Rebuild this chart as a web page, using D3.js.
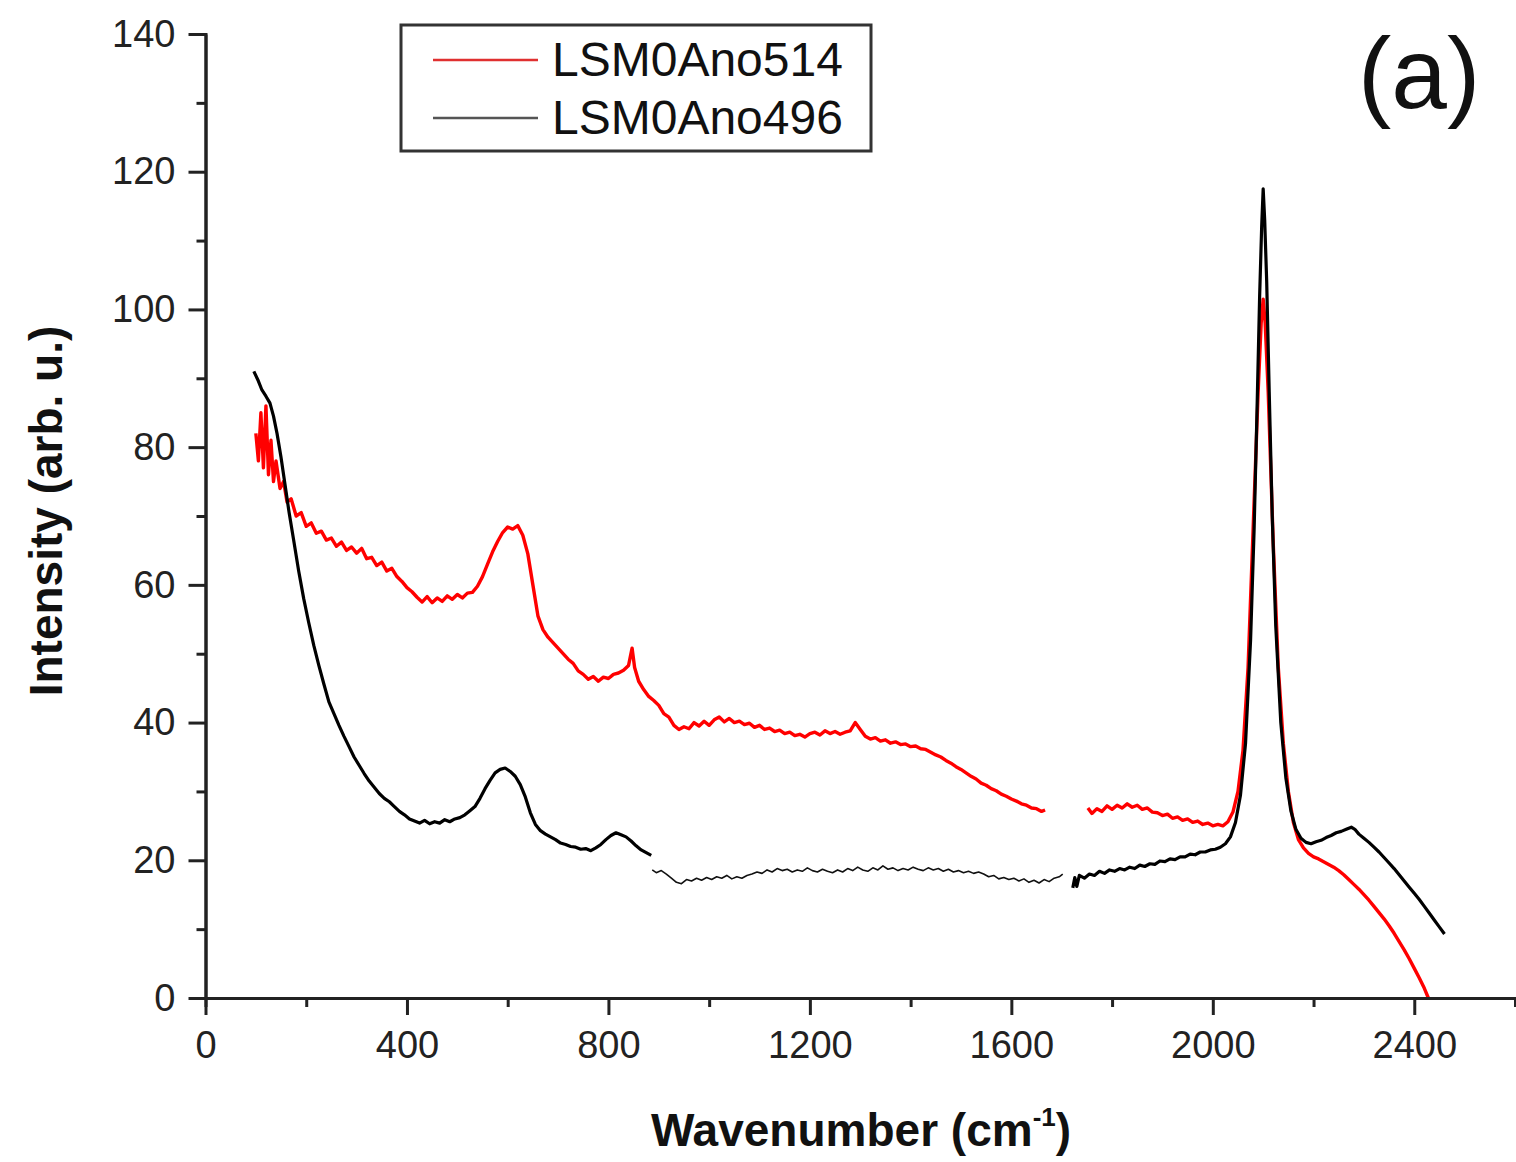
<!DOCTYPE html>
<html>
<head>
<meta charset="utf-8">
<script src="https://cdn.jsdelivr.net/npm/d3@7"></script>
<style>
  body { margin: 0; background: #fff; }
  text { font-family: "Liberation Sans", Arial, sans-serif; }
</style>
</head>
<body>
<div id="chart"></div>
<script>
// Raman spectra (wavenumber, intensity)
const seriesNames = ["LSM0Ano514", "LSM0Ano496"];
const xMajorTicks = [0, 400, 800, 1200, 1600, 2000, 2400];
const xMinorTicks = [200, 600, 1000, 1400, 1800, 2200, 2600];
const yMajorTicks = [0, 20, 40, 60, 80, 100, 120, 140];
const yMinorTicks = [10, 30, 50, 70, 90, 110, 130];

// LSM0Ano514 (red), first piece
const red514A = [
  [100,82],[105,78],[110,85],[115,77],[120,86],[125,76],[130,81],[135,75],[140,78],[148,74],
  [155,75],[162,72],[170,72.5],[180,70],[190,70.5],[200,68.5],[210,69],[220,67.5],[230,67.8],[240,66.5],
  [250,66.8],[260,65.6],[270,66.2],[280,65],[290,65.5],[300,64.6],[310,65.3],[320,63.8],[330,64],[340,62.8],
  [350,63.3],[360,62],[370,62.4],[380,61.2],[390,60.5],[400,59.6],[410,59],[420,58.2],[430,57.5],[440,58.3],
  [450,57.4],[460,58.1],[470,57.6],[480,58.4],[490,57.9],[500,58.6],[510,58.1],[520,58.8],[530,58.9],[540,59.8],
  [550,61.2],[560,63],[570,64.8],[580,66.3],[590,67.6],[600,68.4],[610,68.1],[620,68.6],[630,67.2],[640,64.5],
  [650,60],[660,55.5],[670,53.5],[680,52.4],[690,51.6],[700,50.8],[710,50],[720,49.2],[730,48.6],[740,47.5],
  [750,47],[760,46.3],[770,46.7],[780,46],[790,46.6],[800,46.4],[810,47],[820,47.2],[830,47.6],[840,48.3],
  [847,50.8],[852,48],[860,46],[870,44.8],[880,43.8],[890,43.2],[900,42.5],[910,41.3],[920,40.8],[930,39.6],
  [940,39],[950,39.4],[960,39.1],[970,40],[980,39.5],[990,40.2],[1000,39.6],[1010,40.4],[1020,40.8],[1030,40.1],
  [1040,40.6],[1050,40],[1060,40.2],[1070,39.7],[1080,39.9],[1090,39.3],[1100,39.6],[1110,39],[1120,39.2],[1130,38.7],
  [1140,38.9],[1150,38.4],[1160,38.6],[1170,38.1],[1180,38.3],[1190,37.9],[1200,38.4],[1210,38.6],[1220,38.2],[1230,38.8],
  [1240,38.4],[1250,38.7],[1260,38.3],[1270,38.6],[1280,38.8],[1290,40],[1300,39],[1310,38],[1320,37.6],[1330,37.8],
  [1340,37.3],[1350,37.5],[1360,37],[1370,37.2],[1380,36.8],[1390,36.9],[1400,36.5],[1410,36.6],[1420,36.2],[1430,36.1],
  [1440,35.7],[1450,35.3],[1460,35],[1470,34.5],[1480,34.1],[1490,33.6],[1500,33.2],[1510,32.7],[1520,32.2],[1530,31.8],
  [1540,31.2],[1550,30.9],[1560,30.4],[1570,30.1],[1580,29.6],[1590,29.3],[1600,28.9],[1610,28.6],[1620,28.2],[1630,28],
  [1640,27.6],[1650,27.5],[1660,27.1],[1667,27.3]
];
// LSM0Ano514 (red), second piece
const red514B = [
  [1752,27.6],[1760,26.8],[1770,27.5],[1780,27.1],[1790,27.9],[1800,27.4],[1810,28],[1820,27.6],[1830,28.2],[1840,27.7],
  [1850,28],[1860,27.4],[1870,27.6],[1880,27],[1890,26.9],[1900,26.5],[1910,26.7],[1920,26.1],[1930,26.3],[1940,25.8],
  [1950,26],[1960,25.5],[1970,25.7],[1980,25.2],[1990,25.4],[2000,25],[2010,25.2],[2020,25],[2030,25.6],[2040,27],
  [2050,30],[2060,36],[2070,48],[2080,68],[2090,88],[2096,98],[2100,101.5],[2104,98],[2110,88],[2120,66],
  [2130,48],[2140,37],[2150,30],[2160,25.5],[2170,23],[2180,21.8],[2190,21],[2200,20.5],[2210,20.2],[2220,19.8],
  [2230,19.4],[2240,19],[2250,18.5],[2260,17.9],[2270,17.2],[2280,16.5],[2290,15.8],[2300,15],[2310,14.2],[2320,13.3],
  [2330,12.4],[2340,11.5],[2350,10.5],[2360,9.4],[2370,8.2],[2380,7],[2390,5.7],[2400,4.3],[2410,2.9],[2420,1.4],
  [2428,0]
];

// LSM0Ano496 (black), three pieces
const black496A = [
  [96,91],[105,89.6],[112,88.3],[120,87.4],[128,86.4],[135,84.5],[142,82],[150,78.5],[158,74.5],[166,70.5],
  [175,66.5],[185,62],[195,58],[205,54.5],[215,51.2],[225,48.3],[235,45.6],[245,43],[255,41.3],[265,39.6],
  [275,38],[285,36.5],[295,35],[305,33.8],[315,32.6],[325,31.5],[335,30.6],[345,29.7],[355,29],[365,28.5],
  [375,27.8],[385,27.1],[395,26.6],[405,26],[415,25.7],[425,25.4],[435,25.8],[445,25.3],[455,25.6],[465,25.4],
  [475,25.9],[485,25.6],[495,26],[505,26.2],[515,26.6],[525,27.2],[535,27.8],[545,29],[555,30.4],[565,31.6],
  [575,32.7],[585,33.2],[595,33.4],[605,32.9],[615,32.2],[625,31],[635,29.2],[645,26.9],[655,25.2],[665,24.3],
  [675,23.8],[685,23.4],[695,23],[705,22.5],[715,22.3],[725,22],[735,21.9],[745,21.6],[755,21.7],[765,21.4],
  [775,21.8],[785,22.3],[795,23],[805,23.6],[815,24],[825,23.7],[835,23.4],[845,22.8],[855,22.1],[865,21.5],
  [875,21.1],[885,20.7]
];
const black496B = [
  [887,18.6],[895,18.2],[905,18.5],[915,18],[925,17.4],[935,16.8],[945,16.6],[955,17.2],[965,17],[975,17.4],
  [985,17.1],[995,17.5],[1005,17.2],[1015,17.6],[1025,17.4],[1035,17.8],[1045,17.3],[1055,17.6],[1065,17.4],[1075,17.8],
  [1085,18],[1095,18.3],[1105,18.1],[1115,18.6],[1125,18.3],[1135,18.8],[1145,18.5],[1155,18.7],[1165,18.3],[1175,18.6],
  [1185,18.4],[1195,18.9],[1205,18.5],[1215,18.3],[1225,18.7],[1235,18.4],[1245,18.2],[1255,18.6],[1265,18.3],[1275,18.8],
  [1285,18.5],[1295,19],[1305,18.6],[1315,18.4],[1325,18.9],[1335,18.6],[1345,19.2],[1355,18.7],[1365,18.9],[1375,18.5],
  [1385,18.8],[1395,18.6],[1405,19],[1415,18.7],[1425,18.5],[1435,18.9],[1445,18.6],[1455,18.8],[1465,18.4],[1475,18.7],
  [1485,18.3],[1495,18.5],[1505,18.2],[1515,18.4],[1525,18.1],[1535,18.3],[1545,18],[1555,17.6],[1565,17.8],[1575,17.3],
  [1585,17.5],[1595,17.2],[1605,17.4],[1615,17],[1625,17.3],[1635,16.8],[1645,17.1],[1655,16.7],[1665,17.2],[1675,16.9],
  [1685,17.4],[1695,17.6],[1702,18]
];
const black496C = [
  [1722,16],[1726,17.5],[1730,16.2],[1735,17.8],[1745,17.4],[1755,18],[1765,17.8],[1775,18.4],[1785,18.1],[1795,18.6],
  [1805,18.4],[1815,18.8],[1825,18.6],[1835,19],[1845,18.8],[1855,19.3],[1865,19.1],[1875,19.5],[1885,19.4],[1895,19.9],
  [1905,19.8],[1915,20.2],[1925,20.1],[1935,20.5],[1945,20.5],[1955,20.9],[1965,20.8],[1975,21.2],[1985,21.2],[1995,21.5],
  [2005,21.6],[2015,21.9],[2025,22.4],[2035,23.4],[2045,25.5],[2055,29.5],[2065,37],[2075,52],[2082,68],[2088,86],
  [2093,102],[2097,112],[2100,117.5],[2103,113],[2107,104],[2112,88],[2118,70],[2125,54],[2135,40],[2145,32],
  [2155,27.2],[2165,24.5],[2175,23.2],[2185,22.6],[2195,22.4],[2205,22.7],[2215,22.9],[2225,23.3],[2235,23.6],[2245,24],
  [2255,24.2],[2265,24.5],[2275,24.8],[2282,24.5],[2290,23.8],[2300,23.2],[2310,22.6],[2320,21.9],[2330,21.2],[2340,20.4],
  [2350,19.6],[2360,18.8],[2370,17.9],[2380,17],[2390,16.1],[2400,15.2],[2410,14.3],[2420,13.3],[2430,12.3],[2440,11.3],
  [2450,10.3],[2460,9.3]
];

const width = 1516;
const height = 1162;
const plot = { left: 205.5, right: 1515, top: 34, bottom: 998 };

const svg = d3.select("#chart")
  .append("svg")
  .attr("width", width)
  .attr("height", height)
  .attr("viewBox", `0 0 ${width} ${height}`);

const x = d3.scaleLinear().domain([0, 2600]).range([plot.left, plot.right]);
const y = d3.scaleLinear().domain([0, 140]).range([plot.bottom, plot.top]);

const line = d3.line().x(d => x(d[0])).y(d => y(d[1]));

// traces: red first, black on top
const traces = [
  { data: red514A, color: "#ff0000", w: 3.4 },
  { data: red514B, color: "#ff0000", w: 3.4 },
  { data: black496A, color: "#000", w: 3.2 },
  { data: black496B, color: "#111", w: 1.6 },
  { data: black496C, color: "#000", w: 3.2 }
];
svg.selectAll("path.trace")
  .data(traces)
  .enter()
  .append("path")
  .attr("class", "trace")
  .attr("d", d => line(d.data))
  .attr("fill", "none")
  .attr("stroke", d => d.color)
  .attr("stroke-width", d => d.w)
  .attr("stroke-linejoin", "round");

// minor ticks (no labels)
svg.append("g")
  .attr("transform", `translate(0,${plot.bottom})`)
  .call(d3.axisBottom(x).tickValues(xMinorTicks).tickSize(9).tickFormat(""));
svg.append("g")
  .attr("transform", `translate(${plot.left},0)`)
  .call(d3.axisLeft(y).tickValues(yMinorTicks).tickSize(9).tickFormat(""));

// major axes
svg.append("g")
  .attr("transform", `translate(0,${plot.bottom})`)
  .call(d3.axisBottom(x).tickValues(xMajorTicks).tickFormat(d3.format("d"))
    .tickSize(17).tickSizeOuter(0).tickPadding(16));
svg.append("g")
  .attr("transform", `translate(${plot.left},0)`)
  .call(d3.axisLeft(y).tickValues(yMajorTicks).tickFormat(d3.format("d"))
    .tickSize(17).tickSizeOuter(0).tickPadding(13));

svg.selectAll(".domain, .tick line")
  .attr("stroke", "#222")
  .attr("stroke-width", 3);
svg.selectAll(".tick text")
  .attr("fill", "#222")
  .style("font-size", "38px")
  .style("font-family", "'Liberation Sans', Arial, sans-serif");

// axis titles
svg.append("text")
  .attr("transform", "translate(62,511) rotate(-90)")
  .attr("text-anchor", "middle")
  .style("font-size", "46px")
  .style("font-weight", "bold")
  .attr("fill", "#111")
  .text("Intensity (arb. u.)");

const xTitle = svg.append("text")
  .attr("x", 861)
  .attr("y", 1146)
  .attr("text-anchor", "middle")
  .style("font-size", "46px")
  .style("font-weight", "bold")
  .attr("fill", "#111");
xTitle.append("tspan").text("Wavenumber (cm");
xTitle.append("tspan").attr("dy", -20).style("font-size", "26px").text("-1");
xTitle.append("tspan").attr("dy", 20).text(")");

// legend
const legend = svg.append("g");
legend.append("rect")
  .attr("x", 401).attr("y", 25)
  .attr("width", 470).attr("height", 126)
  .attr("fill", "none")
  .attr("stroke", "#333")
  .attr("stroke-width", 3);
const legendColors = ["#e03030", "#555"];
seriesNames.forEach((name, i) => {
  const ly = 60 + i * 58;
  legend.append("line")
    .attr("x1", 433).attr("x2", 538)
    .attr("y1", ly).attr("y2", ly)
    .attr("stroke", legendColors[i])
    .attr("stroke-width", 2.4);
  legend.append("text")
    .attr("x", 552).attr("y", ly + 16)
    .style("font-size", "48px")
    .attr("fill", "#111")
    .text(name);
});

// panel label
svg.append("text")
  .attr("x", 1358).attr("y", 108)
  .style("font-size", "100px")
  .attr("fill", "#111")
  .text("(a)");
</script>
</body>
</html>
